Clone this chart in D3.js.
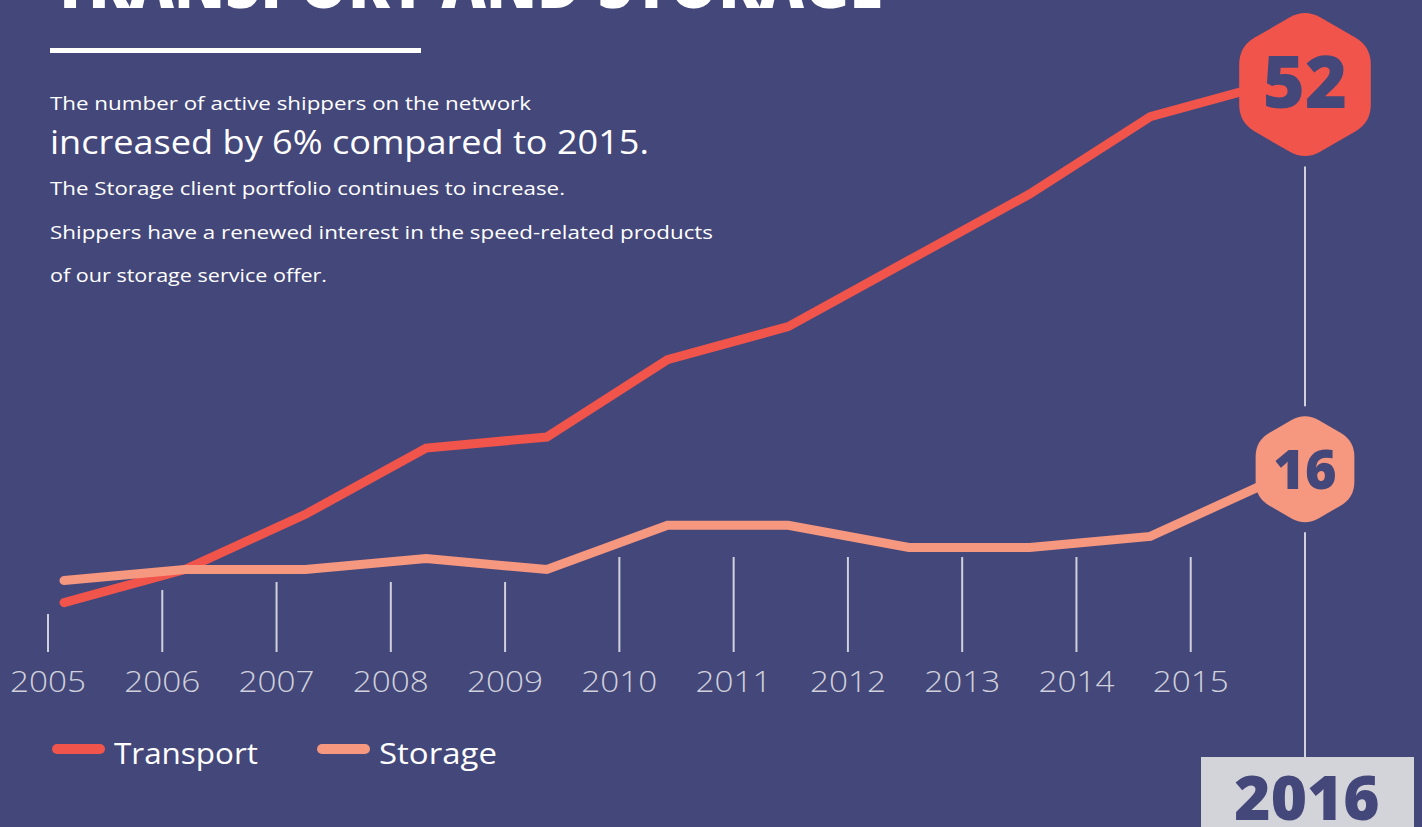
<!DOCTYPE html>
<html>
<head>
<meta charset="utf-8">
<script src="https://cdn.jsdelivr.net/npm/d3@7/dist/d3.min.js"></script>
<style>
  html, body { margin: 0; padding: 0; background: #444779; overflow: hidden; }
  svg { display: block; }
</style>
</head>
<body>
<svg id="chart" width="1422" height="827"></svg>
<script>
// ---------- DATA ----------
const tickYears = [2005, 2006, 2007, 2008, 2009, 2010, 2011, 2012, 2013, 2014, 2015, 2016];
const dataYears = [2006, 2007, 2008, 2009, 2010, 2011, 2012, 2013, 2014, 2015, 2016];
const transport = [5, 8, 13, 19, 20, 27, 30, 36, 42, 49, 52];
const storage   = [7, 8, 8, 9, 8, 12, 12, 10, 10, 11, 16];
const seriesNames = ["Transport", "Storage"];
const titleText = "TRANSPORT AND STORAGE";
const introLines = [
  "The number of active shippers on the network",
  "increased by 6% compared to 2015.",
  "The Storage client portfolio continues to increase.",
  "Shippers have a renewed interest in the speed-related products",
  "of our storage service offer."
];

// ---------- STYLE / LAYOUT ----------
const BG = "#444779";
const C_TRANSPORT = "#f0544b";
const C_STORAGE = "#f6977f";
const C_TICK = "#d0d1dc";
const FONT = "'Open Sans', 'Noto Sans', sans-serif";
const tickTopOffsets = [38, 62, 70, 70, 70, 95, 95, 95, 95, 95, 95]; // tick lengths (px)

const svg = d3.select("#chart");
svg.append("rect").attr("width", 1422).attr("height", 827).attr("fill", BG);

// scales
const xTick = d3.scaleLinear().domain([2005, 2016]).range([48, 1305]);
const xPt = d3.scalePoint().domain(dataYears).range([64, 1271]);
const y = d3.scaleLinear().domain([0, 52]).range([657.9, 83.6]);
const tickBottom = 652;

// ---------- TITLE ----------
svg.append("text")
  .attr("x", 52).attr("y", 8)
  .attr("font-family", FONT).attr("font-weight", 800)
  .attr("font-size", 72).attr("fill", "#ffffff")
  .attr("textLength", 831).attr("lengthAdjust", "spacingAndGlyphs")
  .text(titleText);
svg.append("rect").attr("x", 50).attr("y", 48).attr("width", 371).attr("height", 5).attr("fill", "#ffffff");

// ---------- INTRO TEXT ----------
const introSpec = [
  { y: 110, size: 19, w: 481 },
  { y: 154, size: 33, w: 599 },
  { y: 195, size: 19, w: 515 },
  { y: 239, size: 19, w: 663 },
  { y: 282, size: 19, w: 277 }
];
introLines.forEach((t, i) => {
  svg.append("text")
    .attr("x", 50).attr("y", introSpec[i].y)
    .attr("font-family", FONT).attr("font-weight", 400)
    .attr("font-size", introSpec[i].size).attr("fill", "#ffffff")
    .attr("textLength", introSpec[i].w).attr("lengthAdjust", "spacingAndGlyphs")
    .text(t);
});

// ---------- AXIS (ticks + labels) ----------
const axisYears = tickYears.slice(0, -1);
const axisG = svg.append("g");
axisG.selectAll("line.tick").data(axisYears).join("line")
  .attr("class", "tick")
  .attr("x1", d => xTick(d)).attr("x2", d => xTick(d))
  .attr("y1", (d, i) => tickBottom - tickTopOffsets[i]).attr("y2", tickBottom)
  .attr("stroke", C_TICK).attr("stroke-width", 2);
axisG.selectAll("text.lbl").data(axisYears).join("text")
  .attr("class", "lbl")
  .attr("x", d => xTick(d)).attr("y", 692)
  .attr("text-anchor", "middle")
  .attr("font-family", FONT).attr("font-weight", 300)
  .attr("font-size", 30).attr("fill", C_TICK)
  .attr("textLength", 76).attr("lengthAdjust", "spacingAndGlyphs")
  .text(d => d);

// ---------- 2016 marker line and box ----------
const lastYear = tickYears[tickYears.length - 1];
const hx = xTick(lastYear);
const hexSpec = [
  { v: transport[transport.length - 1], R: 76, d: 18, color: C_TRANSPORT, fs: 72, dy: 23, off: 1 },
  { v: storage[storage.length - 1], R: 57, d: 16, color: C_STORAGE, fs: 54, dy: 20, off: -12 }
];
hexSpec.forEach(h => { h.cy = y(h.v) + h.off; });
const boxTop = 757;
const gap = 10;
const vSegs = [
  [hexSpec[0].cy + hexSpec[0].R - 4 + gap, hexSpec[1].cy - hexSpec[1].R + 4 - gap],
  [hexSpec[1].cy + hexSpec[1].R - 4 + gap, boxTop]
];
svg.selectAll("line.vseg").data(vSegs).join("line")
  .attr("class", "vseg")
  .attr("x1", hx).attr("x2", hx)
  .attr("y1", d => d[0]).attr("y2", d => d[1])
  .attr("stroke", C_TICK).attr("stroke-width", 2);

svg.append("rect").attr("x", 1201).attr("y", boxTop).attr("width", 213).attr("height", 80).attr("fill", "#d3d4d9");
svg.append("text")
  .attr("x", hx + 2).attr("y", 820)
  .attr("text-anchor", "middle")
  .attr("font-family", FONT).attr("font-weight", 800)
  .attr("font-size", 62).attr("fill", BG)
  .text(lastYear);

// ---------- LINES ----------
const line = d3.line().x((d, i) => xPt(dataYears[i])).y(d => y(d));
svg.append("path").datum(transport)
  .attr("d", line).attr("fill", "none")
  .attr("stroke", C_TRANSPORT).attr("stroke-width", 9)
  .attr("stroke-linecap", "round").attr("stroke-linejoin", "miter");
svg.append("path").datum(storage)
  .attr("d", line).attr("fill", "none")
  .attr("stroke", C_STORAGE).attr("stroke-width", 9)
  .attr("stroke-linecap", "round").attr("stroke-linejoin", "miter");

// ---------- HEXAGONS ----------
function roundedHex(cx, cy, R, d) {
  const pts = d3.range(6).map(k => {
    const a = (-90 + 60 * k) * Math.PI / 180;
    return [cx + R * Math.cos(a), cy + R * Math.sin(a)];
  });
  const p = d3.path();
  for (let k = 0; k < 6; k++) {
    const prev = pts[(k + 5) % 6], cur = pts[k], next = pts[(k + 1) % 6];
    const toPrev = [prev[0] - cur[0], prev[1] - cur[1]];
    const toNext = [next[0] - cur[0], next[1] - cur[1]];
    const L = Math.hypot(toPrev[0], toPrev[1]);
    const a = [cur[0] + toPrev[0] / L * d, cur[1] + toPrev[1] / L * d];
    const b = [cur[0] + toNext[0] / L * d, cur[1] + toNext[1] / L * d];
    if (k === 0) p.moveTo(a[0], a[1]); else p.lineTo(a[0], a[1]);
    p.quadraticCurveTo(cur[0], cur[1], b[0], b[1]);
  }
  p.closePath();
  return p.toString();
}
const hexG = svg.selectAll("g.hex").data(hexSpec).join("g").attr("class", "hex");
hexG.append("path")
  .attr("d", h => roundedHex(hx, h.cy, h.R, h.d))
  .attr("fill", h => h.color);
hexG.append("text")
  .attr("x", hx).attr("y", h => h.cy + h.dy)
  .attr("text-anchor", "middle")
  .attr("font-family", FONT).attr("font-weight", 800)
  .attr("font-size", h => h.fs).attr("fill", BG)
  .text(h => h.v);

// ---------- LEGEND ----------
const legendSpec = [
  { x: 52, color: C_TRANSPORT, tw: 144 },
  { x: 317, color: C_STORAGE, tw: 118 }
];
const lg = svg.selectAll("g.leg").data(seriesNames).join("g").attr("class", "leg");
lg.append("line")
  .attr("x1", (d, i) => legendSpec[i].x + 5).attr("x2", (d, i) => legendSpec[i].x + 48)
  .attr("y1", 749).attr("y2", 749)
  .attr("stroke", (d, i) => legendSpec[i].color).attr("stroke-width", 10)
  .attr("stroke-linecap", "round");
lg.append("text")
  .attr("x", (d, i) => legendSpec[i].x + 62).attr("y", 764)
  .attr("font-family", FONT).attr("font-weight", 400)
  .attr("font-size", 30).attr("fill", "#ffffff")
  .attr("textLength", (d, i) => legendSpec[i].tw).attr("lengthAdjust", "spacingAndGlyphs")
  .text(d => d);
</script>
</body>
</html>
